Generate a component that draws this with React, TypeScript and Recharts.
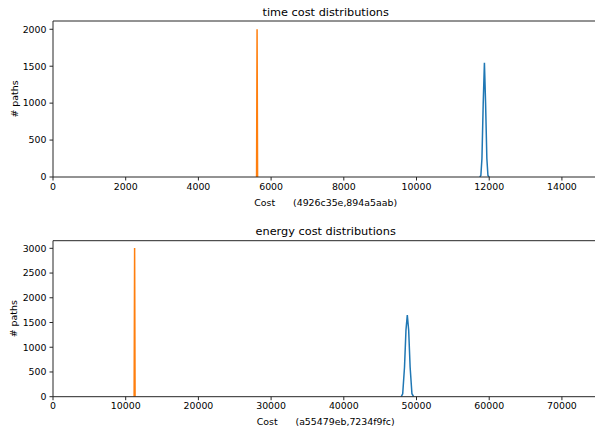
import React from "react";
import { LineChart, Line, XAxis, YAxis, ReferenceLine } from "recharts";

// time cost distributions
const timeBlueCost = [11740, 11770, 11800, 11835, 11868, 11900, 11935, 11965, 12000];
const timeBluePaths = [0, 20, 250, 1000, 1545, 1000, 250, 20, 0];
const timeOrangeCost = [5600, 5614, 5628];
const timeOrangePaths = [0, 2000, 0];
const timeXTicks = [0, 2000, 4000, 6000, 8000, 10000, 12000, 14000];
const timeYTicks = [0, 500, 1000, 1500, 2000];

// energy cost distributions
const energyBlueCost = [47900, 48100, 48350, 48550, 48733, 48920, 49120, 49370, 49600];
const energyBluePaths = [0, 60, 600, 1350, 1650, 1350, 600, 60, 0];
const energyOrangeCost = [11160, 11226, 11290];
const energyOrangePaths = [0, 3005, 0];
const energyXTicks = [0, 10000, 20000, 30000, 40000, 50000, 60000, 70000];
const energyYTicks = [0, 500, 1000, 1500, 2000, 2500, 3000];

const toPoints = (xs: number[], ys: number[]) => xs.map((x, i) => ({ x, y: ys[i] }));

const FONT = "DejaVu Sans";
const tickStyle = { fontSize: 9.4, fill: "#000", fontFamily: FONT };
const spine = "#262626";

interface PanelProps {
  height: number;
  top: number;
  axisHeight: number;
  xMax: number;
  yMax: number;
  xTicks: number[];
  yTicks: number[];
  blue: { x: number; y: number }[];
  orange: { x: number; y: number }[];
}

const Panel: React.FC<PanelProps> = ({ height, top, axisHeight, xMax, yMax, xTicks, yTicks, blue, orange }) => (
  <LineChart width={595} height={height} margin={{ top, right: 0, left: 0, bottom: 0 }}>
    <XAxis
      type="number"
      dataKey="x"
      domain={[0, xMax]}
      ticks={xTicks}
      allowDataOverflow
      height={axisHeight}
      tickSize={3.5}
      tickMargin={2.5}
      tick={tickStyle}
      axisLine={{ stroke: spine, strokeWidth: 1 }}
      tickLine={{ stroke: spine }}
    />
    <YAxis
      type="number"
      dataKey="y"
      domain={[0, yMax]}
      ticks={yTicks}
      allowDataOverflow
      width={53}
      tickSize={3.5}
      tickMargin={3}
      tick={tickStyle}
      axisLine={{ stroke: spine, strokeWidth: 1 }}
      tickLine={{ stroke: spine }}
    />
    <ReferenceLine y={yMax} stroke={spine} strokeWidth={1} />
    <Line data={blue} dataKey="y" type="linear" stroke="#1f77b4" strokeWidth={1.5} dot={false} isAnimationActive={false} />
    <Line data={orange} dataKey="y" type="linear" stroke="#ff7f0e" strokeWidth={1.5} dot={false} isAnimationActive={false} />
  </LineChart>
);

export default function App() {
  return (
    <div style={{ position: "absolute", left: 0, top: 0, width: 595, height: 430, background: "#fff", fontFamily: FONT }}>
      <div style={{ position: "absolute", left: 0, top: 0 }}>
        <Panel
          height={220}
          top={21}
          axisHeight={43}
          xMax={14910}
          yMax={2112}
          xTicks={timeXTicks}
          yTicks={timeYTicks}
          blue={toPoints(timeBlueCost, timeBluePaths)}
          orange={toPoints(timeOrangeCost, timeOrangePaths)}
        />
      </div>
      <div style={{ position: "absolute", left: 0, top: 220 }}>
        <Panel
          height={210}
          top={20.7}
          axisHeight={33.3}
          xMax={74550}
          yMax={3154}
          xTicks={energyXTicks}
          yTicks={energyYTicks}
          blue={toPoints(energyBlueCost, energyBluePaths)}
          orange={toPoints(energyOrangeCost, energyOrangePaths)}
        />
      </div>
      <svg width={595} height={430} style={{ position: "absolute", left: 0, top: 0, pointerEvents: "none" }}>
        <g fontFamily={FONT} fill="#000">
          <text x={325.7} y={16} fontSize={11.3} textAnchor="middle">time cost distributions</text>
          <text x={325.7} y={206} fontSize={9.4} textAnchor="middle" style={{ whiteSpace: "pre" }}>
            {"Cost      (4926c35e,894a5aab)"}
          </text>
          <text x={14} y={99} fontSize={9.4} textAnchor="middle" dominantBaseline="central" transform="rotate(-90 14 99)">
            # paths
          </text>
          <text x={325.7} y={235} fontSize={11.3} textAnchor="middle">energy cost distributions</text>
          <text x={325.7} y={425} fontSize={9.4} textAnchor="middle" style={{ whiteSpace: "pre" }}>
            {"Cost      (a55479eb,7234f9fc)"}
          </text>
          <text x={14} y={318.7} fontSize={9.4} textAnchor="middle" dominantBaseline="central" transform="rotate(-90 14 318.7)">
            # paths
          </text>
        </g>
      </svg>
    </div>
  );
}
